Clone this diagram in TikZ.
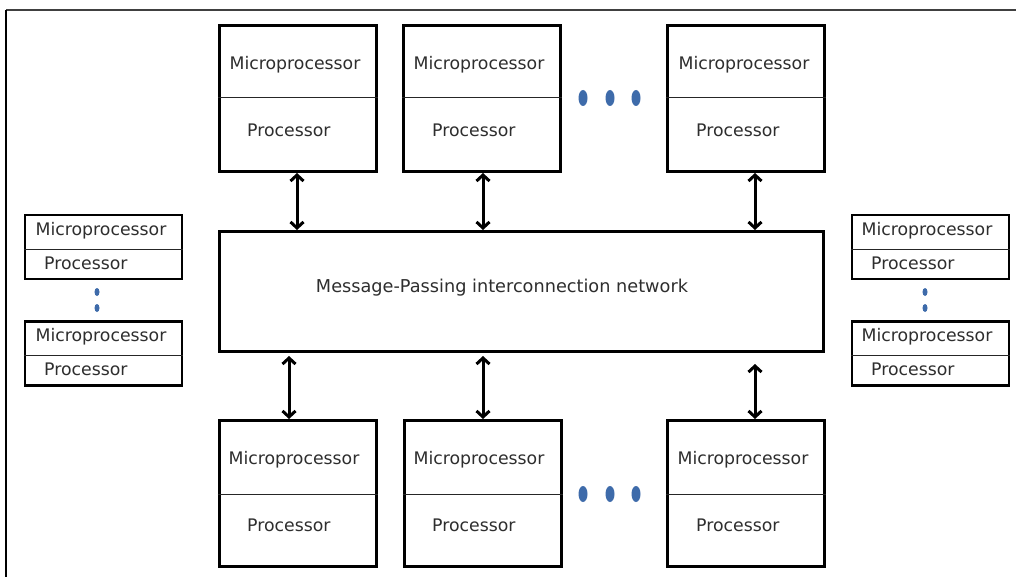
\documentclass[tikz,border=0pt]{standalone}
\usepackage{fontspec}
\setmainfont{DejaVu Sans}
\usetikzlibrary{arrows.meta,shapes.geometric}
\definecolor{txt}{HTML}{2E2E2E}
\definecolor{dotblue}{HTML}{3E6BAA}
\begin{document}
\begin{tikzpicture}[x=1pt,y=-1pt,
  bigbox/.style={draw, line width=3pt, minimum width=157pt, minimum height=146pt, inner sep=0pt},
  smallbox/.style={draw, line width=2.4pt, minimum width=157pt, minimum height=64pt, inner sep=0pt},
  netbox/.style={draw, line width=3pt, minimum width=604pt, minimum height=120pt, inner sep=0pt},
  lbl/.style={inner sep=0pt, text=txt, font=\fontsize{17.3}{19}\selectfont},
  netlbl/.style={inner sep=0pt, text=txt, font=\fontsize{17.7}{20}\selectfont},
  divider/.style={line width=1pt, black!85},
  biarrow/.style={line width=3pt, {Straight Barb[length=6pt,width=13pt]}-{Straight Barb[length=6pt,width=13pt]}},
  dotbig/.style={ellipse, fill=dotblue, minimum width=9pt, minimum height=16pt, inner sep=0pt},
  dotsmall/.style={ellipse, fill=dotblue, minimum width=5pt, minimum height=8pt, inner sep=0pt}
]
\useasboundingbox (0,0) rectangle (1016,577);
\fill[white] (0,0) rectangle (1016,577);
% frame
\coordinate (ftr) at (1016,10);
\coordinate (ftl) at (6,10);
\coordinate (fbl) at (6,577);
\draw[line width=2pt, black!75] (ftr) -- (ftl);
\draw[line width=2pt] (ftl) -- (fbl);

% top boxes
\node[bigbox] (t1) at (298,98.5) {};
\node[bigbox] (t2) at (482,98.5) {};
\node[bigbox] (t3) at (745.5,98.5) {};
\foreach \n in {t1,t2,t3}{\draw[divider] (\n.west |- 0,98) -- (\n.east |- 0,98);}
\node[lbl] (t1m) at (295,65) {Microprocessor};
\node[lbl, anchor=west] (t1p) at (247,130) {Processor};
\node[lbl] (t2m) at (479,65) {Microprocessor};
\node[lbl, anchor=west] (t2p) at (432,130) {Processor};
\node[lbl] (t3m) at (744,65) {Microprocessor};
\node[lbl, anchor=west] (t3p) at (696,130) {Processor};

% bottom boxes
\node[bigbox] (b1) at (297.5,493.5) {};
\node[bigbox] (b2) at (482.5,493.5) {};
\node[bigbox] (b3) at (745.5,493.5) {};
\foreach \n in {b1,b2,b3}{\draw[divider] (\n.west |- 0,494) -- (\n.east |- 0,494);}
\node[lbl] (b1m) at (294,460) {Microprocessor};
\node[lbl, anchor=west] (b1p) at (247,525) {Processor};
\node[lbl] (b2m) at (479,460) {Microprocessor};
\node[lbl, anchor=west] (b2p) at (432,525) {Processor};
\node[lbl] (b3m) at (743,460) {Microprocessor};
\node[lbl, anchor=west] (b3p) at (696,525) {Processor};

% network
\node[netbox] (net) at (521.5,291.5) {};
\node[netlbl] (nett) at (502,288) {Message-Passing interconnection network};

% arrows top
\draw[biarrow] ([xshift=-1pt]t1.south) -- ([xshift=-1pt]t1.south |- net.north);
\draw[biarrow] ([xshift=1pt]t2.south) -- ([xshift=1pt]t2.south |- net.north);
\draw[biarrow] ([xshift=9.5pt]t3.south) -- ([xshift=9.5pt]t3.south |- net.north);
% arrows bottom
\coordinate (a1n) at (289,356);
\coordinate (a2n) at (483,356);
\coordinate (a3n) at (755,364);
\draw[biarrow] (a1n) -- (a1n |- b1.north);
\draw[biarrow] (a2n) -- (a2n |- b2.north);
\draw[biarrow] (a3n) -- (a3n |- b3.north);

% dots
\node[dotbig] (td1) at (583,98) {};
\node[dotbig] (td2) at (610,98) {};
\node[dotbig] (td3) at (636,98) {};
\node[dotbig] (bd1) at (583,494) {};
\node[dotbig] (bd2) at (610,494) {};
\node[dotbig] (bd3) at (636,494) {};

% left small boxes
\node[smallbox] (l1) at (103.5,247) {};
\node[smallbox] (l2) at (103.5,353.5) {};
\draw[divider] (l1.west |- 0,249) -- (l1.east |- 0,249);
\draw[divider] (l2.west |- 0,355) -- (l2.east |- 0,355);
\node[lbl] (l1m) at (101,231) {Microprocessor};
\node[lbl, anchor=west] (l1p) at (44,263) {Processor};
\node[lbl] (l2m) at (101,337) {Microprocessor};
\node[lbl, anchor=west] (l2p) at (44,369) {Processor};
\node[dotsmall] (ld1) at (97,292) {};
\node[dotsmall] (ld2) at (97,308) {};

% right small boxes
\node[smallbox] (r1) at (930.5,247) {};
\node[smallbox] (r2) at (930.5,353.5) {};
\draw[divider] (r1.west |- 0,249) -- (r1.east |- 0,249);
\draw[divider] (r2.west |- 0,355) -- (r2.east |- 0,355);
\node[lbl] (r1m) at (927,231) {Microprocessor};
\node[lbl, anchor=west] (r1p) at (871,263) {Processor};
\node[lbl] (r2m) at (927,337) {Microprocessor};
\node[lbl, anchor=west] (r2p) at (871,369) {Processor};
\node[dotsmall] (rd1) at (925,292) {};
\node[dotsmall] (rd2) at (925,308) {};
\end{tikzpicture}
\end{document}
